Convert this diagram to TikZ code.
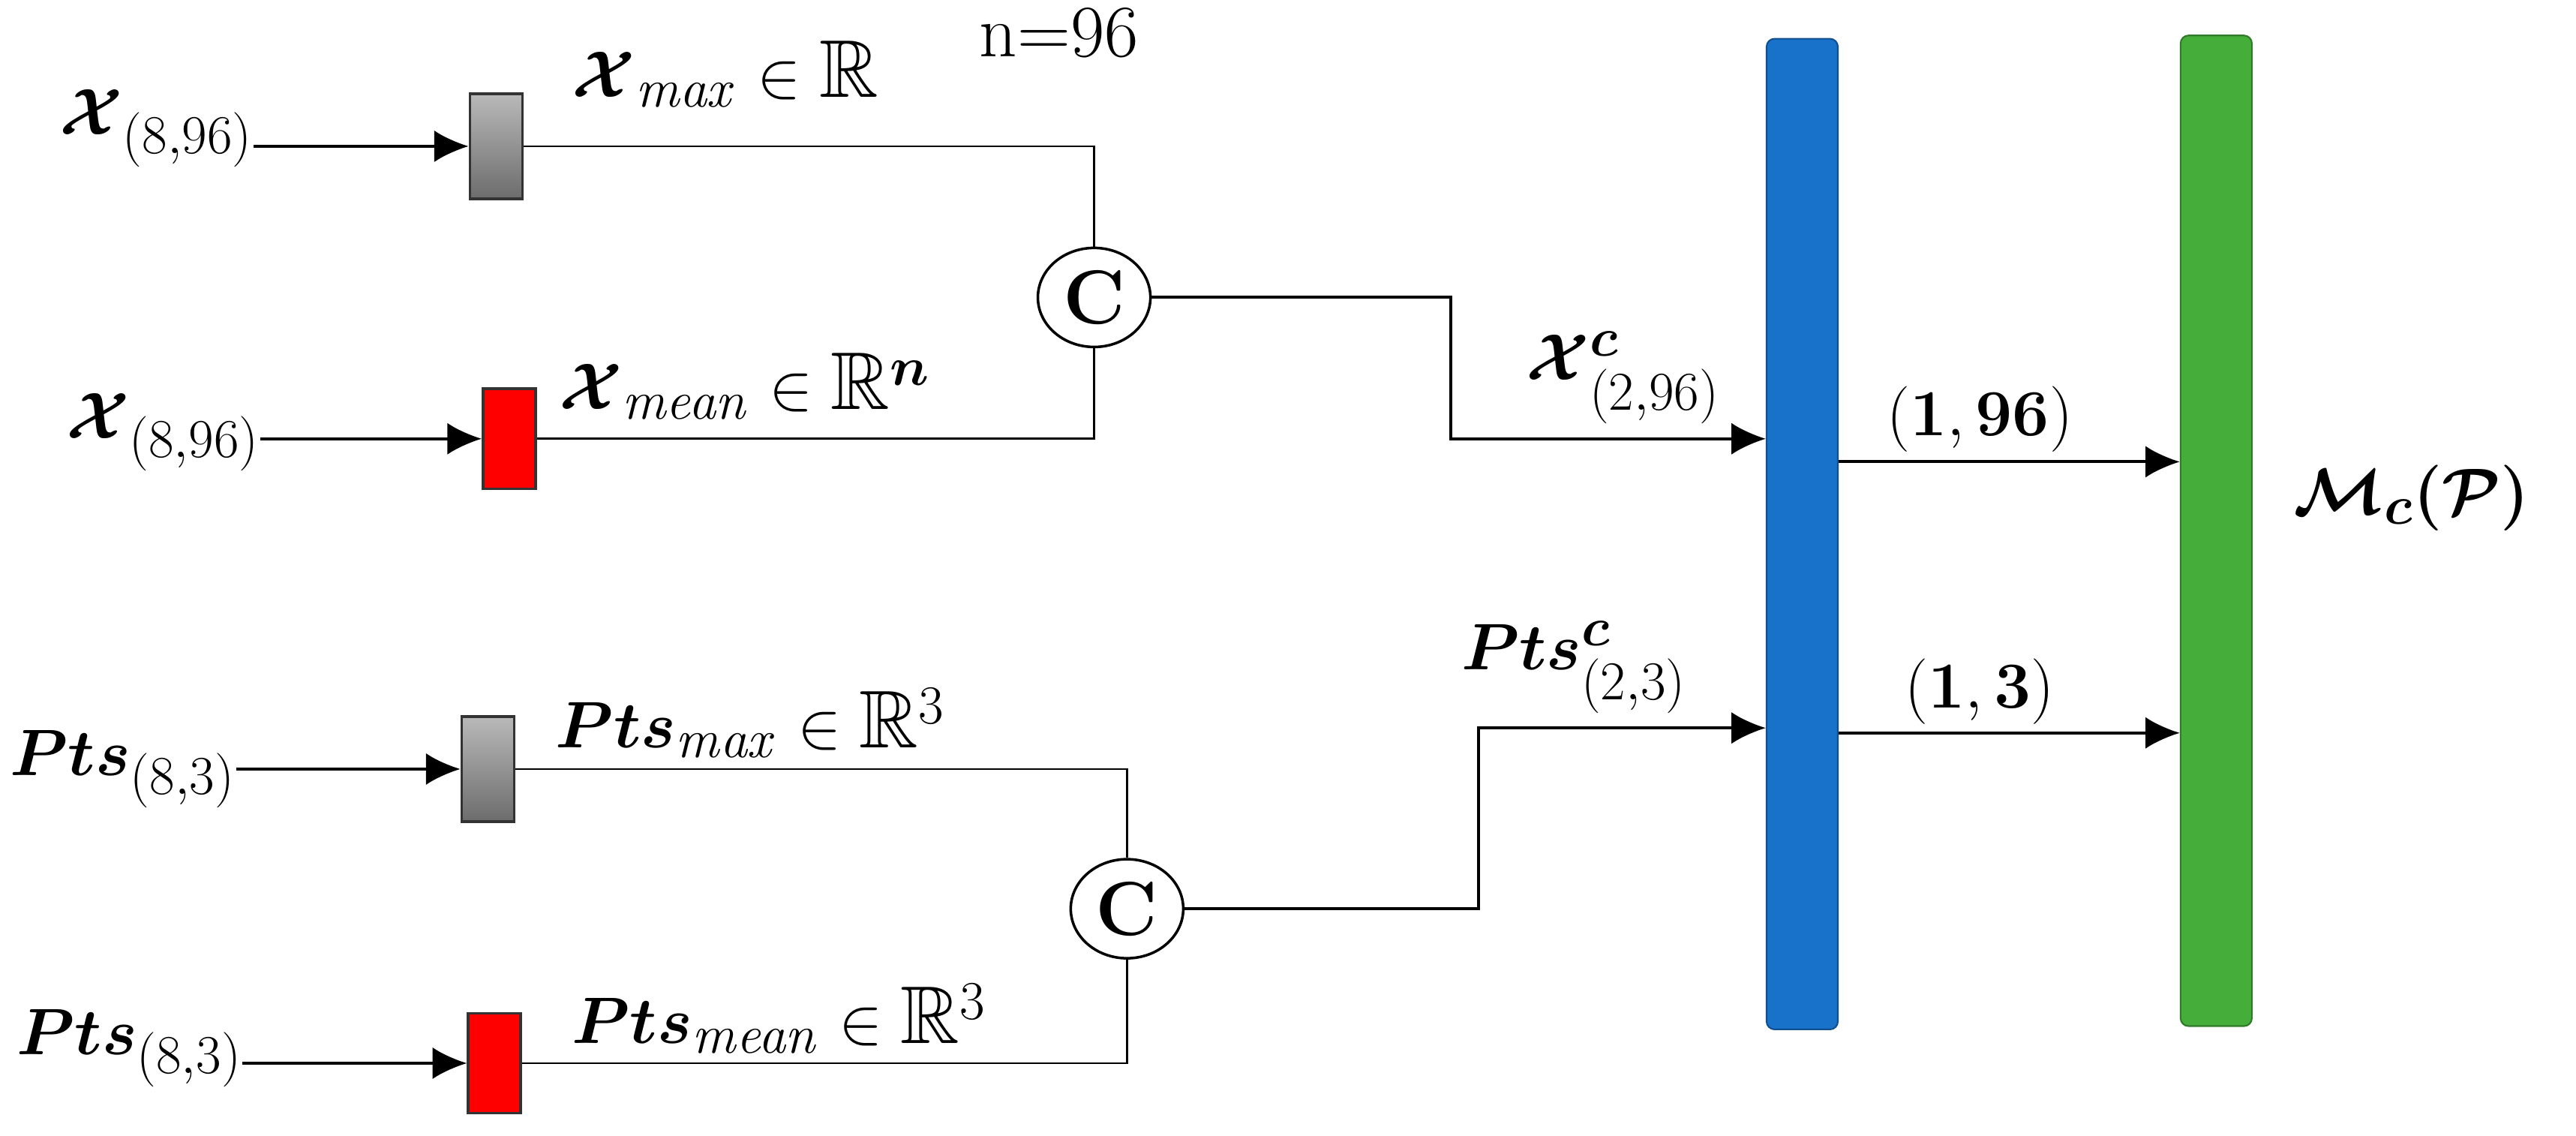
\documentclass[tikz,border=0pt]{standalone}
\usepackage{amsmath,amssymb,bm}
\usetikzlibrary{arrows.meta,calc,shapes.geometric}
\definecolor{barblue}{HTML}{1872C9}
\definecolor{bargreen}{HTML}{45AE3B}
\begin{document}
\begin{tikzpicture}[x=0.0219cm,y=-0.0219cm,
  every node/.style={font=\fontsize{31}{36}\selectfont, inner sep=0pt},
  arr/.style={line width=1.1pt,-{Latex[length=13pt,width=12pt]}},
  ln/.style={line width=0.8pt},
  graybox/.style={draw=black!80,line width=1pt,top color=gray!55,bottom color=gray!85!black,minimum width=0.7cm,minimum height=1.4cm},
  redbox/.style={draw=black!80,line width=1pt,fill=red,minimum width=0.7cm,minimum height=1.33cm},
  cat/.style={draw,line width=1pt,ellipse,minimum width=1.5cm,minimum height=1.32cm,font=\fontsize{29}{32}\selectfont\bfseries},
  bar/.style={rounded corners=3pt,minimum width=0.95cm,minimum height=13.2cm,line width=0.6pt}]
\useasboundingbox (0,0) rectangle (1568,691);
\node[anchor=west] (xin1) at (36,78) {$\bm{\mathcal{X}}_{(8,96)}$};
\node[anchor=west] (xin2) at (40,263) {$\bm{\mathcal{X}}_{(8,96)}$};
\node[anchor=west] (pin1) at (6,468) {$\bm{Pts}_{(8,3)}$};
\node[anchor=west] (pin2) at (10,638) {$\bm{Pts}_{(8,3)}$};
\node[graybox] (g1) at (302,89) {};
\node[redbox] (r1) at (310,267) {};
\node[graybox] (g2) at (297,468) {};
\node[redbox] (r2) at (301,647) {};
\node[cat] (c1) at (666,181) {C};
\node[cat] (c2) at (686,553) {C};
\node[bar,fill=barblue,draw=barblue!70!black] (blue) at (1097,325) {};
\node[bar,fill=bargreen,draw=bargreen!70!black] (green) at (1349,323) {};
\draw[arr] (xin1.east |- g1) -- (g1.west);
\draw[arr] (xin2.east |- r1) -- (r1.west);
\draw[arr] (pin1.east |- g2) -- (g2.west);
\draw[arr] (pin2.east |- r2) -- (r2.west);
\draw[ln] (g1.east) -| (c1.north);
\draw[ln] (r1.east) -| (c1.south);
\draw[ln] (g2.east) -| (c2.north);
\draw[ln] (r2.east) -| (c2.south);
\coordinate (k1) at (883,267);
\coordinate (k2) at (900,443);
\draw[arr] (c1.east) -| (k1) -- (blue.west |- k1);
\draw[arr] (c2.east) -| (k2) -- (blue.west |- k2);
\coordinate (o1) at (1118,281);
\coordinate (o2) at (1118,446);
\draw[arr] (blue.east |- o1) -- (green.west |- o1);
\draw[arr] (blue.east |- o2) -- (green.west |- o2);
\node[anchor=west] at (348,45) {$\bm{\mathcal{X}}_{\mathit{max}}\in\mathbb{R}$};
\node[anchor=west,font=\fontsize{28}{32}\selectfont] at (596,20) {n=96};
\node[anchor=west] at (340,235) {$\bm{\mathcal{X}}_{\mathit{mean}}\in\mathbb{R}^{\bm{n}}$};
\node[anchor=west] at (338,440) {$\bm{Pts}_{\mathit{max}}\in\mathbb{R}^{3}$};
\node[anchor=west] at (348,620) {$\bm{Pts}_{\mathit{mean}}\in\mathbb{R}^{3}$};
\node at (988,230) {$\bm{\mathcal{X}}^{\bm{c}}_{(2,96)}$};
\node at (958,406) {$\bm{Pts}^{\bm{c}}_{(2,3)}$};
\node at (1205,255) {$\mathbf{(1,96)}$};
\node at (1205,421) {$\mathbf{(1,3)}$};
\node at (1468,303) {$\bm{\mathcal{M}_c(\mathcal{P})}$};
\end{tikzpicture}
\end{document}
